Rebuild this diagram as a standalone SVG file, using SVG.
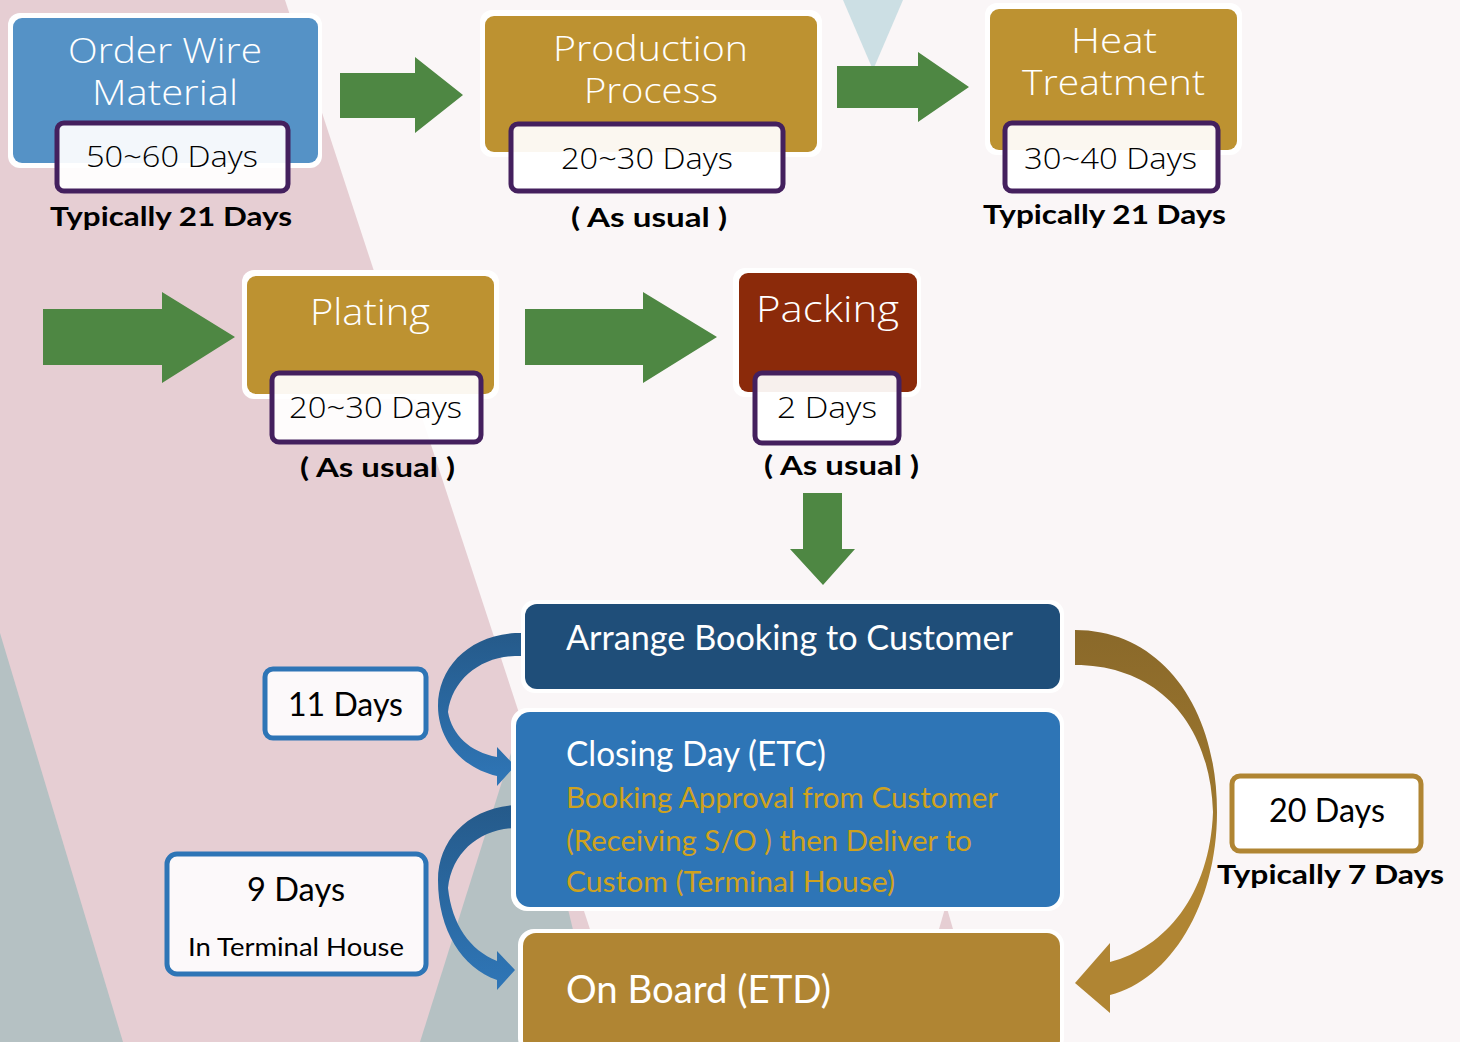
<svg xmlns="http://www.w3.org/2000/svg" width="1460" height="1042" viewBox="0 0 1460 1042">
<defs>
<style>
.ttl{font-family:"Open Sans","Liberation Sans",sans-serif;font-weight:300;fill:#ffffff;font-size:34px}
.dys{font-family:"Open Sans","Liberation Sans",sans-serif;font-weight:300;fill:#000000;font-size:30px}
.bld{font-family:"Lato","Liberation Sans",sans-serif;font-weight:700;fill:#000000;font-size:27px}
.cal{font-family:"Lato","Liberation Sans",sans-serif;font-weight:400;fill:#ffffff;font-size:35px}
.org{font-family:"Lato","Liberation Sans",sans-serif;font-weight:400;fill:#CFA21E;font-size:29px}
.lbl{font-family:"Lato","Liberation Sans",sans-serif;font-weight:400;fill:#000000;font-size:33px}
.halo{fill:#ffffff}
.sub{fill:#ffffff;fill-opacity:0.93;stroke:#44205E;stroke-width:5}
.grn{fill:#4E8743}
</style>
<linearGradient id="gBlue" x1="0" y1="0" x2="0" y2="1">
<stop offset="0" stop-color="#255A8A"/>
<stop offset="1" stop-color="#2F76B7"/>
</linearGradient>
<linearGradient id="gGold" gradientUnits="userSpaceOnUse" x1="0" y1="630" x2="0" y2="1013">
<stop offset="0" stop-color="#8A692A"/>
<stop offset="0.45" stop-color="#9C762E"/>
<stop offset="0.6" stop-color="#B08533"/>
<stop offset="1" stop-color="#B08533"/>
</linearGradient>
</defs>

<g id="background">
<rect x="0" y="0" width="1460" height="1042" fill="#FAF6F7"/>
<polygon points="0,0 285,0 627,1042 0,1042" fill="#E6CED3"/>
<polygon points="0,633 123,1042 0,1042" fill="#B5C1C3"/>
<polygon points="420,1042 522,718 600,1042" fill="#B5C1C3"/>
<polygon points="843,0 903,0 873,70" fill="#CCDFE4"/>
<polygon points="930,960 946,905 962,960" fill="#E6CED3"/>
</g>

<g id="connectors">
<polygon class="grn" points="340,73 415,73 415,57 463,95 415,133 415,118 340,118"/>
<polygon class="grn" points="837,66 918,66 918,52 969,87 918,122 918,108 837,108"/>
<polygon class="grn" points="43,309 162,309 162,292 235,337 162,383 162,365 43,365"/>
<polygon class="grn" points="525,309 643,309 643,292 717,337 643,383 643,365 525,365"/>
<polygon class="grn" points="803,493 842,493 842,549 855,549 823,585 790,549 803,549"/>
<path fill="url(#gBlue)" d="M530,633 L515,633 C468,636 438,668 438,706 C438,740 462,768 497,776 L497,786 L515,766 L497,747 L497,757 C470,752 452,735 448,712 C452,680 480,657 515,656 L530,656 Z"/>
<path fill="url(#gBlue)" d="M530,805 L515,805 C468,808 438,840 438,880 C438,930 462,968 497,980 L497,990 L515,970 L497,951 L497,961 C470,950 452,925 448,888 C452,852 480,829 515,828 L530,828 Z"/>
<path fill="url(#gGold)" d="M1075,630 C1160,630 1217,705 1217,812 C1217,905 1170,980 1110,995 L1110,1013 L1075,983 L1110,943 L1110,962 C1165,948 1210,895 1213,812 C1210,720 1155,665 1075,665 Z"/>
</g>

<g id="node-order">
<rect class="halo" x="8" y="13" width="314" height="155" rx="12"/>
<rect x="13" y="18" width="305" height="145" rx="9" fill="#5592C6"/>
<text class="ttl" x="68" y="63" textLength="194" lengthAdjust="spacingAndGlyphs">Order Wire</text>
<text class="ttl" x="92" y="105" textLength="146" lengthAdjust="spacingAndGlyphs">Material</text>
<rect class="sub" x="57" y="123" width="231" height="68" rx="7"/>
<text class="dys" x="86" y="167" textLength="172" lengthAdjust="spacingAndGlyphs">50~60 Days</text>
<text class="bld" x="50" y="226" textLength="242" lengthAdjust="spacingAndGlyphs">Typically 21 Days</text>
</g>

<g id="node-production">
<rect class="halo" x="480" y="10" width="342" height="147" rx="12"/>
<rect x="485" y="16" width="332" height="136" rx="9" fill="#BD9231"/>
<text class="ttl" x="553" y="61" textLength="195" lengthAdjust="spacingAndGlyphs">Production</text>
<text class="ttl" x="584" y="103" textLength="134" lengthAdjust="spacingAndGlyphs">Process</text>
<rect class="sub" x="511" y="124" width="272" height="67" rx="7"/>
<text class="dys" x="561" y="169" textLength="172" lengthAdjust="spacingAndGlyphs">20~30 Days</text>
<text class="bld" x="571" y="227" textLength="156" lengthAdjust="spacingAndGlyphs">( As usual )</text>
</g>

<g id="node-heat">
<rect class="halo" x="985" y="3" width="257" height="152" rx="12"/>
<rect x="990" y="9" width="247" height="141" rx="9" fill="#BD9231"/>
<text class="ttl" x="1071" y="53" textLength="86" lengthAdjust="spacingAndGlyphs">Heat</text>
<text class="ttl" x="1022" y="95" textLength="183" lengthAdjust="spacingAndGlyphs">Treatment</text>
<rect class="sub" x="1005" y="123" width="213" height="68" rx="7"/>
<text class="dys" x="1024" y="169" textLength="173" lengthAdjust="spacingAndGlyphs">30~40 Days</text>
<text class="bld" x="983" y="224" textLength="243" lengthAdjust="spacingAndGlyphs">Typically 21 Days</text>
</g>

<g id="node-plating">
<rect class="halo" x="242" y="270" width="257" height="129" rx="12"/>
<rect x="247" y="276" width="247" height="118" rx="9" fill="#BD9231"/>
<text class="ttl" x="310" y="325" style="font-size:37px" textLength="120" lengthAdjust="spacingAndGlyphs">Plating</text>
<rect class="sub" x="272" y="373" width="209" height="69" rx="7"/>
<text class="dys" x="289" y="418" textLength="173" lengthAdjust="spacingAndGlyphs">20~30 Days</text>
<text class="bld" x="300" y="477" textLength="155" lengthAdjust="spacingAndGlyphs">( As usual )</text>
</g>

<g id="node-packing">
<rect class="halo" x="733" y="268" width="188" height="129" rx="12"/>
<rect x="739" y="273" width="178" height="119" rx="9" fill="#8B2A0A"/>
<text class="ttl" x="756" y="322" style="font-size:37px" textLength="143" lengthAdjust="spacingAndGlyphs">Packing</text>
<rect class="sub" x="755" y="373" width="144" height="70" rx="7"/>
<text class="dys" x="777" y="418" textLength="100" lengthAdjust="spacingAndGlyphs">2 Days</text>
<text class="bld" x="764" y="475" textLength="155" lengthAdjust="spacingAndGlyphs">( As usual )</text>
</g>

<g id="node-booking">
<rect class="halo" x="521" y="600" width="543" height="93" rx="14"/>
<rect x="525" y="604" width="535" height="85" rx="12" fill="#1F4E79"/>
<text class="cal" x="566" y="650" textLength="447" lengthAdjust="spacingAndGlyphs">Arrange Booking to Customer</text>
</g>

<g id="node-closing">
<rect class="halo" x="511" y="708" width="553" height="203" rx="16"/>
<rect x="516" y="712" width="544" height="195" rx="14" fill="#2E75B6"/>
<text class="cal" x="566" y="766" textLength="260" lengthAdjust="spacingAndGlyphs">Closing Day (ETC)</text>
<text class="org" x="566" y="808" textLength="432" lengthAdjust="spacingAndGlyphs">Booking Approval from Customer</text>
<text class="org" x="566" y="851" textLength="406" lengthAdjust="spacingAndGlyphs">(Receiving S/O ) then Deliver to</text>
<text class="org" x="566" y="892" textLength="329" lengthAdjust="spacingAndGlyphs">Custom (Terminal House)</text>
</g>

<g id="node-onboard">
<rect class="halo" x="518" y="929" width="546" height="125" rx="16"/>
<rect x="523" y="933" width="537" height="120" rx="13" fill="#B08533"/>
<text class="cal" x="566" y="1003" style="font-size:39px" textLength="265" lengthAdjust="spacingAndGlyphs">On Board (ETD)</text>
</g>

<g id="label-11days">
<rect x="265" y="669" width="161" height="69" rx="8" fill="#FCF9FA" stroke="#2E75B6" stroke-width="5"/>
<text class="lbl" x="288" y="716" textLength="115" lengthAdjust="spacingAndGlyphs">11 Days</text>
</g>

<g id="label-9days">
<rect x="167" y="854" width="259" height="120" rx="10" fill="#FCF9FA" stroke="#2E75B6" stroke-width="5"/>
<text class="lbl" x="247" y="901" textLength="98" lengthAdjust="spacingAndGlyphs">9 Days</text>
<text class="lbl" x="188" y="956" style="font-size:25px" textLength="216" lengthAdjust="spacingAndGlyphs">In Terminal House</text>
</g>

<g id="label-20days">
<rect x="1232" y="776" width="189" height="75" rx="8" fill="#FFFFFF" stroke="#B08533" stroke-width="5"/>
<text class="lbl" x="1269" y="822" textLength="116" lengthAdjust="spacingAndGlyphs">20 Days</text>
<text class="bld" x="1217" y="884" textLength="227" lengthAdjust="spacingAndGlyphs">Typically 7 Days</text>
</g>
</svg>
